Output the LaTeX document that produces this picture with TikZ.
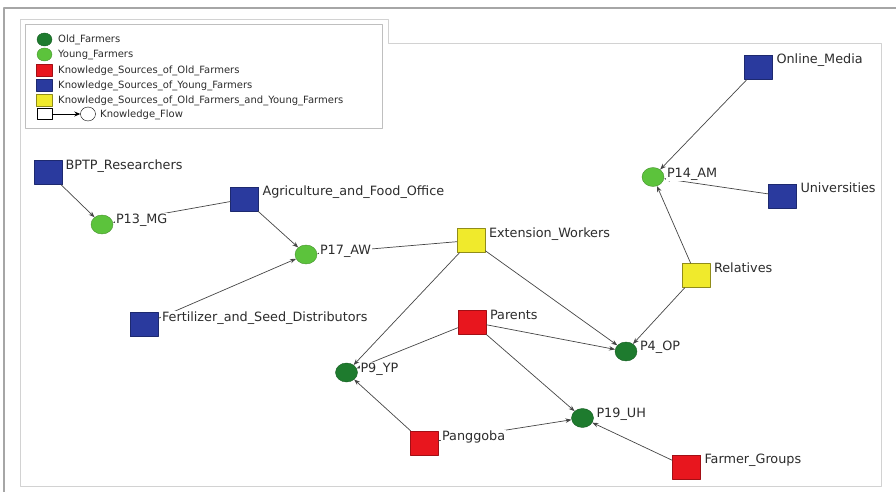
\documentclass[tikz,border=0pt]{standalone}
\usepackage{fontspec}
\setmainfont{DejaVu Sans}
\usetikzlibrary{arrows.meta,shapes.geometric}
\definecolor{oldgreen}{HTML}{1E7B2E}
\definecolor{younggreen}{HTML}{5CC33C}
\definecolor{srcred}{HTML}{E8161E}
\definecolor{srcblue}{HTML}{2A3A9E}
\definecolor{srcyellow}{HTML}{F0EA2C}
\definecolor{labgray}{HTML}{2C2C2C}
\definecolor{edgegray}{HTML}{454545}
\tikzset{
  farmer/.style={ellipse,draw,minimum width=22pt,minimum height=19pt,inner sep=0pt},
  oldf/.style={farmer,fill=oldgreen,draw=oldgreen!75!black},
  youngf/.style={farmer,fill=younggreen,draw=younggreen!75!black},
  source/.style={rectangle,draw,minimum width=28pt,minimum height=24pt,inner sep=0pt},
  srcold/.style={source,fill=srcred,draw=srcred!70!black},
  srcyoung/.style={source,fill=srcblue,draw=srcblue!70!black},
  srcboth/.style={source,fill=srcyellow,draw=srcyellow!60!black},
  tag/.style={anchor=base west,fill=white,inner sep=0.6pt,text=labgray,font=\fontsize{12.8}{14}\selectfont},
  keytext/.style={anchor=base west,inner sep=0pt,text=labgray,font=\fontsize{10}{12}\selectfont},
  flow/.style={draw=edgegray,line width=0.7pt,-{Stealth[length=6pt,width=4.5pt]}}
}
\begin{document}
\begin{tikzpicture}[x=1pt,y=-1pt,line join=round]
\useasboundingbox (0,0) rectangle (896,492);
\draw[gray!70,line width=2pt] (4,492) -- (4,8) -- (896,8);
\draw[gray!35] (20,486) -- (20,19) -- (388,19) -- (388,43) -- (881,43) -- (881,486) -- cycle;
\draw[gray!50] (25,24) rectangle (382,128);
% legend
\node[oldf,minimum width=15pt,minimum height=13pt] (key-old) at (44.5,39.5) {};
\node[youngf,minimum width=15pt,minimum height=13pt] (key-young) at (44.5,54.5) {};
\node[srcold,minimum width=16pt,minimum height=12pt] (key-red) at (44,70.5) {};
\node[srcyoung,minimum width=16pt,minimum height=12pt] (key-blue) at (44,85.5) {};
\node[srcboth,minimum width=16pt,minimum height=12pt] (key-yellow) at (44,100.5) {};
\node[source,draw=black,minimum width=15pt,minimum height=11pt] (key-box) at (44.5,114) {};
\node[farmer,draw=black,minimum width=15pt,minimum height=14pt] (key-circ) at (88,114) {};
\draw[black,line width=0.8pt,-{Stealth[length=6pt,width=5pt]}] (key-box) -- (key-circ);
\node[keytext] (key-t1) at (58,43) {Old\_Farmers};
\node[keytext] (key-t2) at (58,58) {Young\_Farmers};
\node[keytext] (key-t3) at (58,74) {Knowledge\_Sources\_of\_Old\_Farmers};
\node[keytext] (key-t4) at (58,89) {Knowledge\_Sources\_of\_Young\_Farmers};
\node[keytext] (key-t5) at (58,104) {Knowledge\_Sources\_of\_Old\_Farmers\_and\_Young\_Farmers};
\node[keytext] (key-t6) at (100,117.5) {Knowledge\_Flow};
% network
\node[srcyoung] (bptp) at (48.5,172.5) {};
\node[youngf] (p13) at (102,224.5) {};
\node[srcyoung] (agri) at (244.5,199) {};
\node[youngf] (p17) at (306,254.5) {};
\node[srcyoung] (fert) at (144,324.5) {};
\node[srcboth] (ext) at (471,240.5) {};
\node[srcold] (par) at (472,322) {};
\node[oldf] (p9) at (346.5,372.5) {};
\node[oldf] (p4) at (626,351.5) {};
\node[oldf] (p19) at (582.5,418) {};
\node[srcold] (pang) at (424,443) {};
\node[srcold] (fgrp) at (686.5,467) {};
\node[srcboth] (rel) at (696,275.5) {};
\node[youngf] (p14) at (653,177) {};
\node[srcyoung] (univ) at (782.5,196) {};
\node[srcyoung] (omed) at (758.5,67.5) {};
\foreach \s/\t in {bptp/p13,agri/p13,agri/p17,fert/p17,ext/p17,ext/p9,ext/p4,par/p9,par/p4,par/p19,pang/p9,pang/p19,fgrp/p19,rel/p4,rel/p14,univ/p14,omed/p14}
  \draw[flow] (\s) -- (\t);
\node[tag] (bptp-t) at ([xshift=2pt,yshift=3.5pt]bptp.east) {BPTP\_Researchers};
\node[tag] (agri-t) at ([xshift=3pt,yshift=3.5pt]agri.east) {Agriculture\_and\_Food\_Office};
\node[tag] (fert-t) at ([xshift=3pt,yshift=3.5pt]fert.east) {Fertilizer\_and\_Seed\_Distributors};
\node[tag] (ext-t) at ([xshift=3pt,yshift=3.5pt]ext.east) {Extension\_Workers};
\node[tag] (par-t) at ([xshift=3pt,yshift=3pt]par.east) {Parents};
\node[tag] (pang-t) at ([xshift=3pt,yshift=2.5pt]pang.east) {Panggoba};
\node[tag] (fgrp-t) at ([xshift=3pt,yshift=3.5pt]fgrp.east) {Farmer\_Groups};
\node[tag] (rel-t) at ([xshift=3pt,yshift=3.5pt]rel.east) {Relatives};
\node[tag] (univ-t) at ([xshift=3pt,yshift=3.5pt]univ.east) {Universities};
\node[tag] (omed-t) at ([xshift=3pt,yshift=3.5pt]omed.east) {Online\_Media};
\node[tag] (p13-t) at ([xshift=2pt,yshift=1pt]p13.east) {P13\_MG};
\node[tag] (p17-t) at ([xshift=2pt,yshift=0pt]p17.east) {P17\_AW};
\node[tag] (p9-t) at ([xshift=2pt,yshift=0pt]p9.east) {P9\_YP};
\node[tag] (p4-t) at ([xshift=2pt,yshift=1pt]p4.east) {P4\_OP};
\node[tag] (p19-t) at ([xshift=2pt,yshift=1pt]p19.east) {P19\_UH};
\node[tag] (p14-t) at ([xshift=2pt,yshift=0pt]p14.east) {P14\_AM};
\end{tikzpicture}
\end{document}
